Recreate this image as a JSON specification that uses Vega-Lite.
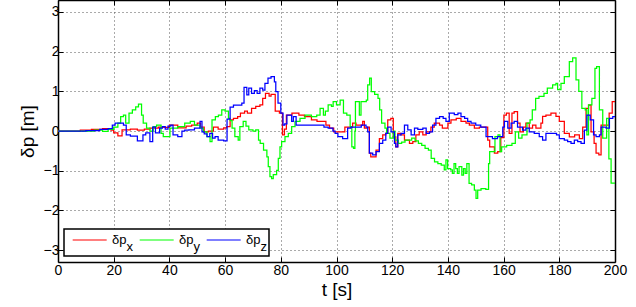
{
  "$schema": "https://vega.github.io/schema/vega-lite/v6.json",
  "width": 557,
  "height": 262,
  "autosize": {"type": "none"},
  "padding": {"left": 58, "top": 0, "right": 21, "bottom": 45},
  "background": "white",
  "config": {
    "font": "Liberation Sans",
    "view": {"stroke": null},
    "axis": {
      "domainColor": "black", "domainWidth": 1.5,
      "tickColor": "black", "tickSize": -5, "tickWidth": 1,
      "labelFont": "Liberation Sans", "labelFontSize": 14, "labelColor": "black",
      "titleFont": "Liberation Sans", "titleFontSize": 19, "titleFontWeight": "normal", "titleColor": "black",
      "gridColor": "#555", "gridDash": [1, 3], "gridWidth": 1
    }
  },
  "data": {"values": [
    {"s":"x","t":0,"v":0},{"s":"x","t":8,"v":0.02},{"s":"x","t":12,"v":0.04},{"s":"x","t":16,"v":0.06},{"s":"x","t":19,"v":0.02},{"s":"x","t":20,"v":-0.05},{"s":"x","t":21.5,"v":-0.12},{"s":"x","t":23,"v":0.03},{"s":"x","t":26,"v":0.05},{"s":"x","t":28.5,"v":0.02},{"s":"x","t":31,"v":0.05},{"s":"x","t":33,"v":0.07},{"s":"x","t":36,"v":0.1},{"s":"x","t":38,"v":0.09},{"s":"x","t":40,"v":0.15},{"s":"x","t":43,"v":0.08},{"s":"x","t":46,"v":0.12},{"s":"x","t":48,"v":0.15},{"s":"x","t":50,"v":0.2},{"s":"x","t":51.2,"v":0.1},{"s":"x","t":52.5,"v":-0.02},{"s":"x","t":54,"v":0},{"s":"x","t":55.8,"v":0.1},{"s":"x","t":57.5,"v":0.05},{"s":"x","t":59.5,"v":0.08},{"s":"x","t":60.6,"v":0.11},{"s":"x","t":61.8,"v":0.28},{"s":"x","t":63,"v":0.32},{"s":"x","t":64.5,"v":0.36},{"s":"x","t":65.5,"v":0.45},{"s":"x","t":67,"v":0.5},{"s":"x","t":68,"v":0.45},{"s":"x","t":69.5,"v":0.57},{"s":"x","t":71,"v":0.62},{"s":"x","t":72.5,"v":0.66},{"s":"x","t":73.5,"v":0.82},{"s":"x","t":74.5,"v":0.95},{"s":"x","t":75.8,"v":0.88},{"s":"x","t":76.5,"v":0.92},{"s":"x","t":78,"v":0.5},{"s":"x","t":79.5,"v":0.45},{"s":"x","t":80.6,"v":-0.1},{"s":"x","t":81.3,"v":0.05},{"s":"x","t":82,"v":0.4},{"s":"x","t":84,"v":0.45},{"s":"x","t":86.5,"v":0.4},{"s":"x","t":88.5,"v":0.36},{"s":"x","t":91,"v":0.28},{"s":"x","t":93,"v":0.24},{"s":"x","t":96.2,"v":0.15},{"s":"x","t":97.5,"v":0.07},{"s":"x","t":99,"v":-0.02},{"s":"x","t":103,"v":0.1},{"s":"x","t":105.8,"v":0.2},{"s":"x","t":107,"v":0.15},{"s":"x","t":109.4,"v":0.24},{"s":"x","t":110,"v":0.07},{"s":"x","t":111.2,"v":0.1},{"s":"x","t":111.8,"v":-0.56},{"s":"x","t":112.3,"v":-0.65},{"s":"x","t":114.2,"v":-0.48},{"s":"x","t":115.4,"v":-0.19},{"s":"x","t":116.6,"v":-0.1},{"s":"x","t":117.7,"v":-0.06},{"s":"x","t":118.4,"v":0.28},{"s":"x","t":119.5,"v":0.32},{"s":"x","t":120.4,"v":-0.15},{"s":"x","t":121.3,"v":-0.4},{"s":"x","t":122,"v":-0.06},{"s":"x","t":123,"v":-0.1},{"s":"x","t":124.4,"v":-0.23},{"s":"x","t":126.2,"v":-0.31},{"s":"x","t":127.4,"v":-0.27},{"s":"x","t":128.5,"v":-0.1},{"s":"x","t":129.7,"v":-0.02},{"s":"x","t":131,"v":-0.1},{"s":"x","t":132.2,"v":-0.02},{"s":"x","t":133.9,"v":0.1},{"s":"x","t":135.1,"v":0.2},{"s":"x","t":137,"v":0.15},{"s":"x","t":138,"v":0.07},{"s":"x","t":140,"v":0.2},{"s":"x","t":141.1,"v":0.28},{"s":"x","t":143,"v":0.32},{"s":"x","t":144.7,"v":0.24},{"s":"x","t":146.5,"v":0.2},{"s":"x","t":147.7,"v":0.15},{"s":"x","t":149.5,"v":0.07},{"s":"x","t":151.3,"v":0.1},{"s":"x","t":154.3,"v":-0.23},{"s":"x","t":155,"v":-0.4},{"s":"x","t":156.7,"v":-0.56},{"s":"x","t":157.9,"v":-0.52},{"s":"x","t":159,"v":-0.17},{"s":"x","t":160.1,"v":0.4},{"s":"x","t":161,"v":0.45},{"s":"x","t":162,"v":-0.06},{"s":"x","t":163,"v":0.45},{"s":"x","t":163.8,"v":0.49},{"s":"x","t":165,"v":0.2},{"s":"x","t":165.9,"v":-0.02},{"s":"x","t":167.1,"v":0.1},{"s":"x","t":168,"v":0.2},{"s":"x","t":169.2,"v":0.07},{"s":"x","t":170.4,"v":0.15},{"s":"x","t":171.6,"v":0.07},{"s":"x","t":173.4,"v":0.2},{"s":"x","t":174,"v":0.37},{"s":"x","t":175.2,"v":0.4},{"s":"x","t":177,"v":0.45},{"s":"x","t":178.8,"v":0.37},{"s":"x","t":180,"v":0.24},{"s":"x","t":181.8,"v":-0.06},{"s":"x","t":183.6,"v":-0.15},{"s":"x","t":185.5,"v":-0.1},{"s":"x","t":187.2,"v":-0.19},{"s":"x","t":188.4,"v":0.1},{"s":"x","t":189.6,"v":0.57},{"s":"x","t":190.5,"v":0.65},{"s":"x","t":191.4,"v":-0.02},{"s":"x","t":192.5,"v":-0.31},{"s":"x","t":193.2,"v":-0.56},{"s":"x","t":194.2,"v":-0.6},{"s":"x","t":195,"v":0.15},{"s":"x","t":197.9,"v":0.45},{"s":"x","t":199,"v":0.74},{"s":"x","t":200,"v":0.74},

    {"s":"y","t":0,"v":0},{"s":"y","t":13,"v":0.02},{"s":"y","t":16,"v":-0.01},{"s":"y","t":18,"v":0.04},{"s":"y","t":20,"v":0.1},{"s":"y","t":21.5,"v":0.2},{"s":"y","t":22.5,"v":0.36},{"s":"y","t":23.5,"v":0.4},{"s":"y","t":24.3,"v":0.2},{"s":"y","t":25.5,"v":0.45},{"s":"y","t":26.7,"v":0.53},{"s":"y","t":27.9,"v":0.61},{"s":"y","t":28.9,"v":0.68},{"s":"y","t":30,"v":0.4},{"s":"y","t":30.6,"v":0.2},{"s":"y","t":31.8,"v":0.07},{"s":"y","t":33,"v":0},{"s":"y","t":34.2,"v":0.11},{"s":"y","t":35.4,"v":0.15},{"s":"y","t":37,"v":-0.06},{"s":"y","t":37.8,"v":-0.14},{"s":"y","t":40.2,"v":0.07},{"s":"y","t":43,"v":0.11},{"s":"y","t":45.5,"v":0.2},{"s":"y","t":47.5,"v":0.24},{"s":"y","t":49,"v":0.15},{"s":"y","t":51,"v":0.07},{"s":"y","t":52.2,"v":-0.02},{"s":"y","t":53.5,"v":-0.14},{"s":"y","t":54.6,"v":-0.27},{"s":"y","t":55.3,"v":0.28},{"s":"y","t":56.5,"v":0.36},{"s":"y","t":57.6,"v":0.4},{"s":"y","t":58.8,"v":0.53},{"s":"y","t":60,"v":0.5},{"s":"y","t":61.2,"v":0.32},{"s":"y","t":61.8,"v":0.26},{"s":"y","t":62.5,"v":0.07},{"s":"y","t":63.5,"v":-0.14},{"s":"y","t":64.7,"v":-0.23},{"s":"y","t":65.3,"v":0.11},{"s":"y","t":66.5,"v":0.24},{"s":"y","t":67.5,"v":0.12},{"s":"y","t":68.5,"v":0.03},{"s":"y","t":70,"v":0},{"s":"y","t":71,"v":0.03},{"s":"y","t":72,"v":-0.23},{"s":"y","t":72.6,"v":-0.31},{"s":"y","t":73.8,"v":-0.48},{"s":"y","t":75,"v":-0.65},{"s":"y","t":75.5,"v":-0.9},{"s":"y","t":76.1,"v":-1.15},{"s":"y","t":76.7,"v":-1.2},{"s":"y","t":77.3,"v":-1.1},{"s":"y","t":78.5,"v":-0.99},{"s":"y","t":79.1,"v":-0.69},{"s":"y","t":79.7,"v":-0.4},{"s":"y","t":80.3,"v":-0.27},{"s":"y","t":81.5,"v":-0.14},{"s":"y","t":82.7,"v":-0.06},{"s":"y","t":83.9,"v":0.11},{"s":"y","t":85.1,"v":0.24},{"s":"y","t":86.9,"v":0.32},{"s":"y","t":88.7,"v":0.4},{"s":"y","t":91,"v":0.36},{"s":"y","t":92.9,"v":0.4},{"s":"y","t":94.1,"v":0.57},{"s":"y","t":95.3,"v":0.4},{"s":"y","t":96,"v":0.5},{"s":"y","t":97,"v":0.66},{"s":"y","t":98.2,"v":0.62},{"s":"y","t":98.8,"v":0.74},{"s":"y","t":100,"v":0.66},{"s":"y","t":101.3,"v":0.78},{"s":"y","t":102.5,"v":0.45},{"s":"y","t":103.7,"v":0.4},{"s":"y","t":104.9,"v":0.11},{"s":"y","t":105.5,"v":-0.4},{"s":"y","t":106.1,"v":-0.44},{"s":"y","t":106.6,"v":0},{"s":"y","t":106.8,"v":0.74},{"s":"y","t":108.2,"v":0.4},{"s":"y","t":108.8,"v":0.74},{"s":"y","t":110.7,"v":0.78},{"s":"y","t":111.2,"v":1.16},{"s":"y","t":111.9,"v":1.33},{"s":"y","t":112.5,"v":0.99},{"s":"y","t":113.7,"v":0.92},{"s":"y","t":114.9,"v":0.82},{"s":"y","t":115.5,"v":0.53},{"s":"y","t":116.2,"v":0.2},{"s":"y","t":117.4,"v":0.07},{"s":"y","t":118,"v":-0.06},{"s":"y","t":119.2,"v":-0.18},{"s":"y","t":120.4,"v":0},{"s":"y","t":121,"v":-0.23},{"s":"y","t":122.2,"v":-0.31},{"s":"y","t":123.4,"v":-0.28},{"s":"y","t":124.6,"v":-0.23},{"s":"y","t":127,"v":-0.18},{"s":"y","t":128.2,"v":-0.25},{"s":"y","t":129.4,"v":-0.31},{"s":"y","t":130.6,"v":-0.36},{"s":"y","t":131.8,"v":-0.44},{"s":"y","t":133,"v":-0.48},{"s":"y","t":134,"v":-0.69},{"s":"y","t":135.2,"v":-0.78},{"s":"y","t":136.4,"v":-0.82},{"s":"y","t":137.6,"v":-0.86},{"s":"y","t":138.7,"v":-0.98},{"s":"y","t":139.3,"v":-0.73},{"s":"y","t":139.9,"v":-0.95},{"s":"y","t":141,"v":-0.98},{"s":"y","t":141.6,"v":-1.07},{"s":"y","t":142.2,"v":-0.82},{"s":"y","t":142.8,"v":-0.95},{"s":"y","t":143.4,"v":-1.07},{"s":"y","t":144,"v":-0.9},{"s":"y","t":145,"v":-1.11},{"s":"y","t":145.6,"v":-0.95},{"s":"y","t":146.2,"v":-1.07},{"s":"y","t":146.8,"v":-0.82},{"s":"y","t":147.6,"v":-1.32},{"s":"y","t":148.5,"v":-1.36},{"s":"y","t":149.5,"v":-1.49},{"s":"y","t":150.1,"v":-1.7},{"s":"y","t":150.7,"v":-1.49},{"s":"y","t":151.9,"v":-1.45},{"s":"y","t":153.6,"v":-1.47},{"s":"y","t":154.6,"v":-0.82},{"s":"y","t":155,"v":-0.52},{"s":"y","t":156.9,"v":-0.14},{"s":"y","t":158,"v":-0.1},{"s":"y","t":158.7,"v":-0.52},{"s":"y","t":159.3,"v":-0.4},{"s":"y","t":161.1,"v":-0.36},{"s":"y","t":163,"v":-0.31},{"s":"y","t":164.2,"v":-0.02},{"s":"y","t":165.4,"v":-0.18},{"s":"y","t":166.6,"v":-0.1},{"s":"y","t":168.4,"v":0.2},{"s":"y","t":169.5,"v":0.28},{"s":"y","t":170.3,"v":0.53},{"s":"y","t":171.5,"v":0.82},{"s":"y","t":172.7,"v":0.87},{"s":"y","t":174.5,"v":0.95},{"s":"y","t":175.7,"v":1.08},{"s":"y","t":177.6,"v":1.16},{"s":"y","t":178.8,"v":1.2},{"s":"y","t":179.4,"v":1.04},{"s":"y","t":180.6,"v":1.2},{"s":"y","t":181.8,"v":1.37},{"s":"y","t":183.6,"v":1.75},{"s":"y","t":184.8,"v":1.84},{"s":"y","t":186,"v":1.29},{"s":"y","t":187,"v":1.0},{"s":"y","t":188.1,"v":0.57},{"s":"y","t":189.3,"v":0.53},{"s":"y","t":189.9,"v":-0.1},{"s":"y","t":190.5,"v":0.66},{"s":"y","t":191.7,"v":0.82},{"s":"y","t":192.8,"v":1.58},{"s":"y","t":193.4,"v":1.62},{"s":"y","t":194.4,"v":0.53},{"s":"y","t":195.6,"v":-0.18},{"s":"y","t":197,"v":0.32},{"s":"y","t":197.8,"v":-0.7},{"s":"y","t":198.6,"v":-1.31},{"s":"y","t":200,"v":-1.31},

    {"s":"z","t":0,"v":0},{"s":"z","t":10,"v":0.01},{"s":"z","t":15,"v":0.04},{"s":"z","t":18,"v":0.06},{"s":"z","t":19.5,"v":0.15},{"s":"z","t":20.5,"v":0.2},{"s":"z","t":23.5,"v":0.15},{"s":"z","t":24.5,"v":-0.1},{"s":"z","t":26,"v":-0.13},{"s":"z","t":28.5,"v":-0.25},{"s":"z","t":30.5,"v":-0.1},{"s":"z","t":31.5,"v":-0.05},{"s":"z","t":33,"v":-0.27},{"s":"z","t":34,"v":0.1},{"s":"z","t":35,"v":-0.05},{"s":"z","t":36.5,"v":0.07},{"s":"z","t":37.5,"v":0.11},{"s":"z","t":38.5,"v":0.05},{"s":"z","t":39.5,"v":0.12},{"s":"z","t":40.5,"v":0.15},{"s":"z","t":41.3,"v":-0.1},{"s":"z","t":43,"v":-0.14},{"s":"z","t":44.5,"v":0},{"s":"z","t":45.5,"v":0.02},{"s":"z","t":47,"v":0.03},{"s":"z","t":49,"v":0.07},{"s":"z","t":51,"v":0.24},{"s":"z","t":51.7,"v":-0.02},{"s":"z","t":52.5,"v":-0.07},{"s":"z","t":53.5,"v":-0.14},{"s":"z","t":54.5,"v":-0.06},{"s":"z","t":55.5,"v":-0.18},{"s":"z","t":56.4,"v":-0.14},{"s":"z","t":57.5,"v":-0.23},{"s":"z","t":59.5,"v":-0.25},{"s":"z","t":60.7,"v":0.3},{"s":"z","t":61.8,"v":0.6},{"s":"z","t":63,"v":0.65},{"s":"z","t":66,"v":0.7},{"s":"z","t":66.8,"v":1.1},{"s":"z","t":67.8,"v":0.91},{"s":"z","t":68.5,"v":1.08},{"s":"z","t":69.5,"v":0.95},{"s":"z","t":70.5,"v":1.02},{"s":"z","t":71.5,"v":0.95},{"s":"z","t":72.5,"v":1.08},{"s":"z","t":73.5,"v":1.03},{"s":"z","t":74.3,"v":1.2},{"s":"z","t":75.4,"v":1.33},{"s":"z","t":76.5,"v":1.37},{"s":"z","t":77.7,"v":1.24},{"s":"z","t":78.2,"v":0.99},{"s":"z","t":79,"v":0.7},{"s":"z","t":80,"v":0.45},{"s":"z","t":80.8,"v":0.15},{"s":"z","t":81.4,"v":0.18},{"s":"z","t":82.2,"v":0.4},{"s":"z","t":83.9,"v":0.24},{"s":"z","t":84.5,"v":0.36},{"s":"z","t":85.5,"v":0.15},{"s":"z","t":93,"v":0.15},{"s":"z","t":95.5,"v":0.1},{"s":"z","t":97,"v":0.07},{"s":"z","t":98.7,"v":0},{"s":"z","t":99.5,"v":-0.06},{"s":"z","t":100.5,"v":-0.14},{"s":"z","t":102.2,"v":-0.19},{"s":"z","t":104,"v":0.07},{"s":"z","t":105.2,"v":0.1},{"s":"z","t":108.9,"v":0.15},{"s":"z","t":110.6,"v":0.1},{"s":"z","t":111.2,"v":-0.02},{"s":"z","t":111.8,"v":-0.56},{"s":"z","t":113,"v":-0.6},{"s":"z","t":114.2,"v":-0.52},{"s":"z","t":115.4,"v":-0.31},{"s":"z","t":116.6,"v":-0.23},{"s":"z","t":117.7,"v":-0.06},{"s":"z","t":118.4,"v":0.1},{"s":"z","t":119.6,"v":-0.02},{"s":"z","t":120.8,"v":-0.31},{"s":"z","t":121.3,"v":-0.4},{"s":"z","t":122,"v":-0.1},{"s":"z","t":123.2,"v":-0.06},{"s":"z","t":124.4,"v":0.15},{"s":"z","t":125.6,"v":0.03},{"s":"z","t":126.8,"v":-0.1},{"s":"z","t":128,"v":0.07},{"s":"z","t":129.2,"v":0.04},{"s":"z","t":131,"v":0.07},{"s":"z","t":132.2,"v":-0.06},{"s":"z","t":133.4,"v":-0.02},{"s":"z","t":134.5,"v":0.15},{"s":"z","t":135.7,"v":0.32},{"s":"z","t":137,"v":0.36},{"s":"z","t":138.3,"v":0.32},{"s":"z","t":139.3,"v":0.24},{"s":"z","t":140.5,"v":0.45},{"s":"z","t":142.3,"v":0.41},{"s":"z","t":143.6,"v":0.45},{"s":"z","t":144.7,"v":0.36},{"s":"z","t":146,"v":0.32},{"s":"z","t":147.1,"v":0.24},{"s":"z","t":148.3,"v":0.2},{"s":"z","t":150,"v":0.15},{"s":"z","t":151.8,"v":0.1},{"s":"z","t":153.7,"v":-0.14},{"s":"z","t":156,"v":-0.19},{"s":"z","t":157.8,"v":-0.14},{"s":"z","t":159.7,"v":0.1},{"s":"z","t":160.3,"v":0.24},{"s":"z","t":161.5,"v":0.07},{"s":"z","t":162.7,"v":0.2},{"s":"z","t":163.8,"v":0.24},{"s":"z","t":165,"v":0.1},{"s":"z","t":166.8,"v":0.02},{"s":"z","t":168,"v":0.07},{"s":"z","t":169.2,"v":-0.02},{"s":"z","t":171,"v":-0.06},{"s":"z","t":172.8,"v":-0.14},{"s":"z","t":174,"v":-0.23},{"s":"z","t":175.2,"v":-0.06},{"s":"z","t":179,"v":-0.1},{"s":"z","t":180,"v":-0.19},{"s":"z","t":181.8,"v":-0.23},{"s":"z","t":183,"v":-0.27},{"s":"z","t":184.2,"v":-0.31},{"s":"z","t":185.4,"v":-0.23},{"s":"z","t":186.6,"v":-0.27},{"s":"z","t":187.8,"v":-0.31},{"s":"z","t":189,"v":0.02},{"s":"z","t":189.9,"v":0.4},{"s":"z","t":191.1,"v":0.28},{"s":"z","t":192.3,"v":-0.1},{"s":"z","t":193.2,"v":-0.14},{"s":"z","t":194.4,"v":-0.1},{"s":"z","t":195,"v":0.1},{"s":"z","t":196.8,"v":0.07},{"s":"z","t":198,"v":0.32},{"s":"z","t":199.2,"v":0.36},{"s":"z","t":200,"v":0.36}
  ]},
  "layer": [
    {
      "mark": {"type": "line", "interpolate": "step-after", "strokeWidth": 1.25},
      "encoding": {
        "x": {"field": "t", "type": "quantitative",
              "scale": {"domain": [0, 200], "nice": false, "zero": false},
              "axis": {"orient": "bottom", "values": [0,20,40,60,80,100,120,140,160,180,200], "title": "t [s]", "labelPadding": 6, "titlePadding": 3, "grid": true, "labelFlush": false}},
        "y": {"field": "v", "type": "quantitative",
              "scale": {"domain": [-3.3, 3.3], "nice": false, "zero": false},
              "axis": {"orient": "left", "values": [-3,-2,-1,0,1,2,3], "title": "δp [m]", "labelPadding": 4, "titlePadding": 6, "grid": true, "labelFlush": false}},
        "color": {"field": "s", "type": "nominal",
                  "scale": {"domain": ["x", "y", "z"], "range": ["#ff0000", "#00ff00", "#0000ff"]},
                  "legend": {
                    "title": null, "orient": "bottom-left", "offset": 6, "direction": "horizontal", "columns": 3,
                    "symbolType": "M-0.29,0H3.96", "symbolSize": 256, "symbolStrokeWidth": 1.2, "symbolOffset": 0,
                    "labelFont": "Liberation Sans", "labelFontSize": 13, "labelColor": "black", "labelOffset": 28, "labelAlign": "left",
                    "labelExpr": "['δp', '\u200b\u00a0\u00a0\u00a0\u00a0' + datum.label]",
                    "columnPadding": 0, "padding": 2, "rowPadding": 0,
                    "strokeColor": "black", "fillColor": "white",
                    "encode": {
                      "legend": {"update": {"strokeWidth": {"value": 1.5}}},
                      "labels": {"update": {"lineHeight": {"value": 7}}}
                    }
                  }},
        "order": {"field": "t", "type": "quantitative"}
      }
    },
    {
      "mark": {"type": "line", "strokeOpacity": 0, "interpolate": "step-after"},
      "encoding": {
        "x": {"field": "t", "type": "quantitative",
              "axis": {"orient": "top", "values": [0,20,40,60,80,100,120,140,160,180,200], "labels": false, "title": null, "grid": false}},
        "y": {"field": "v", "type": "quantitative",
              "axis": {"orient": "right", "values": [-3,-2,-1,0,1,2,3], "labels": false, "title": null, "grid": false}},
        "detail": {"field": "s"}
      }
    }
  ],
  "resolve": {"axis": {"x": "independent", "y": "independent"}}
}
